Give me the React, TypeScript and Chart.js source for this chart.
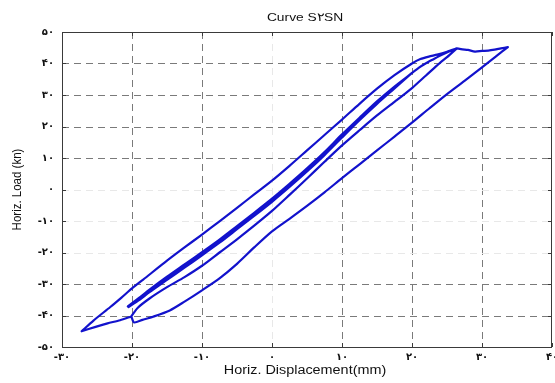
import React, { useEffect, useRef } from "react";
import { Chart, registerables } from "chart.js";

Chart.register(...registerables);

// ---- axes / ticks ----
const xTicks = [-30, -20, -10, 0, 10, 20, 30, 40];
const xTickLabels = ["-۳۰", "-۲۰", "-۱۰", "۰", "۱۰", "۲۰", "۳۰", "۴۰"];
const yTicks = [-50, -40, -30, -20, -10, 0, 10, 20, 30, 40, 50];
const yTickLabels = ["-۵۰", "-۴۰", "-۳۰", "-۲۰", "-۱۰", "۰", "۱۰", "۲۰", "۳۰", "۴۰", "۵۰"];
const faintX = [0];
const faintY = [0, -10, -20];

const chartTitle = "Curve S۲SN";
const xTitle = "Horiz. Displacement(mm)";
const yTitle = "Horiz. Load (kn)";

// ---- hysteresis path segments [displacement mm, load kN] ----
const bandUp1: [number, number][] = [
  [-20.6, -37.1], [-19, -34.4], [-17.5, -31.8], [-15, -27.7], [-12.5, -23.8], [-10, -19.9],
  [-7.5, -15.9], [-5, -11.6], [-2.5, -7.3], [0, -2.9], [2.5, 1.8], [5, 6.7], [7.5, 11.9],
  [10, 17.5], [12.5, 22.8], [15, 28.0], [17.5, 32.7], [20, 37],
];
const bandDown: [number, number][] = [
  [20, 37], [17.5, 32.1], [15, 27.2], [12.5, 22.0], [10, 16.5], [7.5, 10.9], [5, 5.7],
  [2.5, 0.8], [0, -3.9], [-2.5, -8.3], [-5, -12.6], [-7.5, -16.9], [-10, -20.9],
  [-12.5, -24.8], [-15, -28.7], [-17.5, -32.6], [-19, -35.1], [-20.5, -37.3],
];
const bandUp2: [number, number][] = [
  [-20.5, -37.3], [-19, -34.8], [-17.5, -32.2], [-15, -28.2], [-12.5, -24.3], [-10, -20.4],
  [-7.5, -16.4], [-5, -12.1], [-2.5, -7.8], [0, -3.4], [2.5, 1.3], [5, 6.2], [7.5, 11.4],
  [10, 17], [12.5, 22.4], [15, 27.6], [17.5, 32.4], [20, 37],
];
const secondLoad: [number, number][] = [
  [20, 37], [21, 38.7], [22, 40.1], [23, 41.3], [24.2, 42.7], [25.3, 43.8], [26.4, 44.8],
];
const secondUnload: [number, number][] = [
  [26.4, 44.8], [25, 42], [24, 40.2], [22, 36.2], [20, 32.2], [17.5, 27.8], [15, 23.5],
  [12.5, 18.8], [10, 14], [7.5, 8.8], [5, 3.5], [2.5, -1.7], [0, -6.8], [-2.5, -11.4],
  [-5, -15.8], [-7.5, -20], [-10, -24.2], [-12.5, -27.8], [-15, -31], [-17.5, -34.6],
  [-19.2, -37.6], [-20.1, -40.3],
];
const toNegPeak: [number, number][] = [
  [-20.1, -40.3], [-21.7, -41.5], [-23.5, -42.5], [-25.2, -43.6], [-27.2, -45],
];
const outerLoad: [number, number][] = [
  [-27.2, -45], [-25.5, -41.6], [-23.1, -37.3], [-21.5, -34.3], [-20, -31.4], [-18.4, -28.6],
  [-15, -22.6], [-12.5, -18.4], [-10, -14.3], [-7.5, -10.1], [-5, -5.8], [-2.5, -1.5],
  [0, 2.8], [2.5, 7.5], [5, 12.4], [7.5, 17.3], [10, 22.2], [12.5, 27.2], [15, 32],
  [17.5, 36.3], [20, 40], [21.2, 41.4], [22.4, 42.2], [23.6, 42.8], [25, 43.7], [26.4, 44.8],
];
const plateau: [number, number][] = [
  [26.4, 44.8], [27.2, 44.5], [28, 44.3], [29, 43.8], [30, 44.0], [30.9, 44.1],
  [31.8, 44.4], [32.7, 44.8], [33.7, 45.2],
];
const outerUnload: [number, number][] = [
  [33.7, 45.2], [32, 42.3], [30, 38.8], [27.5, 34.5], [25, 30.3], [22.5, 25.8], [20, 21.2],
  [17.5, 16.8], [15, 12.4], [12.5, 8], [10, 3.6], [7.5, -0.9], [5, -5.2], [2.5, -9.3],
  [0, -13.3], [-2.5, -18.3], [-5, -23.6], [-7.5, -28.2], [-10, -32], [-12.5, -35.6],
  [-14.6, -38.4], [-17, -40.4], [-18.5, -41.4], [-19.7, -42.2], [-20.1, -40.3],
];

const segments = [
  bandUp1, bandDown, bandUp2, secondLoad, secondUnload, toNegPeak, outerLoad, plateau, outerUnload,
];

const LINE_COLOR = "#1212cc";
const GRID_COLOR = "#7a7a7a";
const FAINT_COLOR = "#e8e8e8";
const BOX_COLOR = "#3a3a3a";
const TEXT_COLOR = "#111111";

const framePlugin = {
  id: "frame",
  beforeDatasetsDraw(chart: any) {
    const { ctx, chartArea, scales } = chart;
    const { left, right, top, bottom } = chartArea;
    const x = scales.x;
    const y = scales.y;
    ctx.save();
    ctx.lineWidth = 1;
    ctx.setLineDash([7, 5]);
    xTicks.forEach((v) => {
      if (v === xTicks[0] || v === xTicks[xTicks.length - 1]) return;
      const px = Math.round(x.getPixelForValue(v)) + 0.5;
      ctx.strokeStyle = faintX.includes(v) ? FAINT_COLOR : GRID_COLOR;
      ctx.beginPath();
      ctx.moveTo(px, top);
      ctx.lineTo(px, bottom);
      ctx.stroke();
    });
    yTicks.forEach((v) => {
      if (v === yTicks[0] || v === yTicks[yTicks.length - 1]) return;
      const py = Math.round(y.getPixelForValue(v)) + 0.5;
      ctx.strokeStyle = faintY.includes(v) ? FAINT_COLOR : GRID_COLOR;
      ctx.beginPath();
      ctx.moveTo(left, py);
      ctx.lineTo(right, py);
      ctx.stroke();
    });
    ctx.restore();
  },
  afterDatasetsDraw(chart: any) {
    const { ctx, chartArea, scales } = chart;
    const { left, right, top, bottom } = chartArea;
    const x = scales.x;
    const y = scales.y;
    ctx.save();
    ctx.setLineDash([]);
    ctx.strokeStyle = BOX_COLOR;
    ctx.lineWidth = 1;
    ctx.strokeRect(Math.round(left) + 0.5, Math.round(top) + 0.5, Math.round(right - left) - 1, Math.round(bottom - top));
    const tl = 4;
    ctx.beginPath();
    xTicks.forEach((v) => {
      const px = Math.round(x.getPixelForValue(v)) + 0.5;
      ctx.moveTo(px, bottom);
      ctx.lineTo(px, bottom - tl);
      ctx.moveTo(px, top);
      ctx.lineTo(px, top + tl);
    });
    yTicks.forEach((v) => {
      const py = Math.round(y.getPixelForValue(v)) + 0.5;
      ctx.moveTo(left, py);
      ctx.lineTo(left + tl, py);
      ctx.moveTo(right, py);
      ctx.lineTo(right - tl, py);
    });
    ctx.stroke();

    // texts
    ctx.fillStyle = TEXT_COLOR;
    ctx.textAlign = "center";
    ctx.textBaseline = "middle";
    const cx = (left + right) / 2;
    ctx.font = "11.5px 'Liberation Sans', Arial, sans-serif";
    ctx.save();
    ctx.translate(cx - 2, 18);
    ctx.scale(1.2, 1);
    ctx.fillText(chartTitle, 0, 0);
    ctx.restore();

    ctx.font = "12px 'Liberation Sans', Arial, sans-serif";
    ctx.save();
    ctx.translate(cx - 2, 371);
    ctx.scale(1.2, 1);
    ctx.fillText(xTitle, 0, 0);
    ctx.restore();

    ctx.font = "11.5px 'Liberation Sans', Arial, sans-serif";
    ctx.save();
    ctx.translate(18, (top + bottom) / 2);
    ctx.rotate(-Math.PI / 2);
    ctx.scale(1, 1.1);
    ctx.fillText(yTitle, 0, 0);
    ctx.restore();
    ctx.restore();
  },
};

export default function App() {
  const canvasRef = useRef<HTMLCanvasElement | null>(null);

  useEffect(() => {
    if (!canvasRef.current) return;
    const path = segments.flat().map(([px, py]) => ({ x: px, y: py }));
    const tickFont = { family: "'DejaVu Sans', sans-serif", size: 10, weight: "bold" as const };
    const chart = new Chart(canvasRef.current, {
      type: "scatter",
      data: {
        datasets: [
          {
            data: path,
            showLine: true,
            borderColor: LINE_COLOR,
            backgroundColor: LINE_COLOR,
            borderWidth: 2.2,
            pointRadius: 0,
            pointHoverRadius: 0,
            fill: false,
            tension: 0.25,
            borderJoinStyle: "round",
            borderCapStyle: "round",
          } as any,
        ],
      },
      options: {
        animation: false,
        responsive: true,
        maintainAspectRatio: false,
        events: [],
        layout: { padding: { top: 32, right: 3, left: 0, bottom: 0 } },
        plugins: {
          legend: { display: false },
          tooltip: { enabled: false },
          title: { display: false },
        },
        scales: {
          x: {
            type: "linear",
            min: xTicks[0],
            max: xTicks[xTicks.length - 1],
            afterBuildTicks: (s: any) => {
              s.ticks = xTicks.map((v) => ({ value: v }));
            },
            ticks: {
              autoSkip: false,
              maxRotation: 0,
              padding: 4,
              color: TEXT_COLOR,
              font: tickFont,
              callback: (v: any) => {
                const i = xTicks.indexOf(Number(v));
                return i >= 0 ? xTickLabels[i] : "";
              },
            },
            grid: { display: false, drawTicks: false },
            border: { display: false },
            afterFit: (s: any) => {
              s.height = 36;
              s.paddingLeft = 0;
              s.paddingRight = 0;
            },
          },
          y: {
            type: "linear",
            min: yTicks[0],
            max: yTicks[yTicks.length - 1],
            afterBuildTicks: (s: any) => {
              s.ticks = yTicks.map((v) => ({ value: v }));
            },
            ticks: {
              autoSkip: false,
              padding: 8,
              color: TEXT_COLOR,
              font: tickFont,
              callback: (v: any) => {
                const i = yTicks.indexOf(Number(v));
                return i >= 0 ? yTickLabels[i] : "";
              },
            },
            grid: { display: false, drawTicks: false },
            border: { display: false },
            afterFit: (s: any) => {
              s.width = 62;
              s.paddingTop = 0;
              s.paddingBottom = 0;
            },
          },
        },
      } as any,
      plugins: [framePlugin],
    });
    return () => chart.destroy();
  }, []);

  return (
    <div style={{ position: "fixed", left: 0, top: 0, width: 555, height: 383, background: "#fff" }}>
      <canvas ref={canvasRef} />
    </div>
  );
}
